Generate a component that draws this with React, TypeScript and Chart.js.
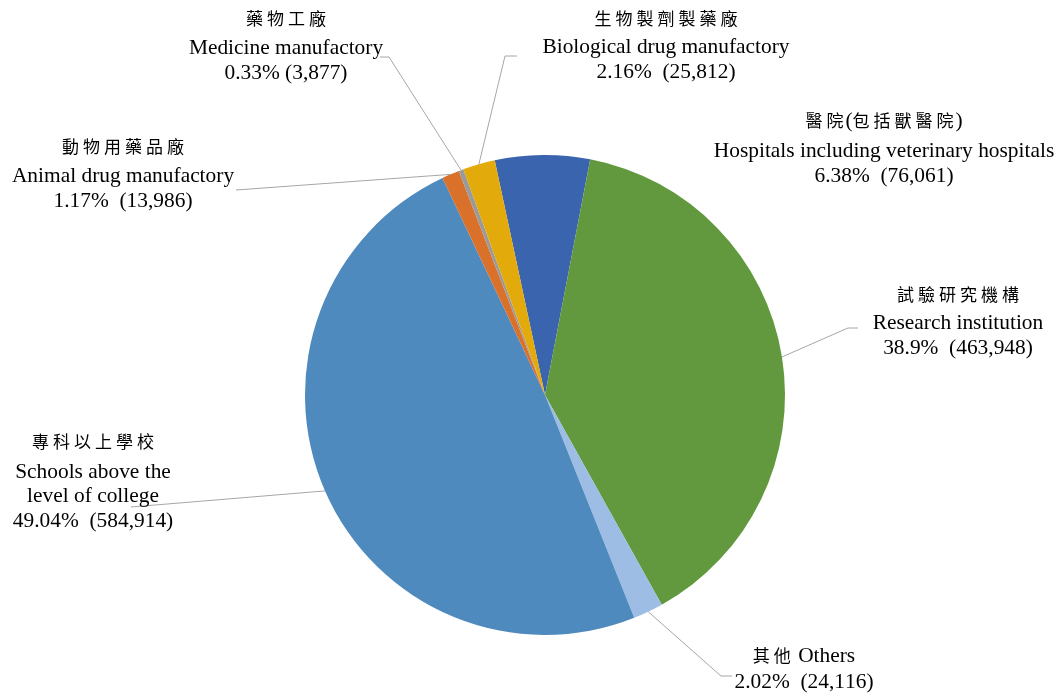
import React, { useEffect, useRef } from "react";
import { Chart, registerables } from "chart.js";

Chart.register(...registerables);

// ---- data ----
const categoriesZh = ["醫院(包括獸醫院)", "試驗研究機構", "其他", "專科以上學校", "動物用藥品廠", "藥物工廠", "生物製劑製藥廠"];
const categoriesEn = [
  "Hospitals including veterinary hospitals",
  "Research institution",
  "Others",
  "Schools above the level of college",
  "Animal drug manufactory",
  "Medicine manufactory",
  "Biological drug manufactory",
];
const values = [76061, 463948, 24116, 584914, 13986, 3877, 25812];
const percentLabels = ["6.38%", "38.9%", "2.02%", "49.04%", "1.17%", "0.33%", "2.16%"];
const valueLabels = ["(76,061)", "(463,948)", "(24,116)", "(584,914)", "(13,986)", "(3,877)", "(25,812)"];
const colors = ["#3A64AD", "#62993E", "#9DBDE4", "#4F8ABE", "#D9712B", "#9A9A9A", "#E3AA0B"];

// ---- label layout (text lines and positions) ----
type LabelLayout = {
  cx: number;
  cjkY: number | null;
  lines: string[]; // first line is the CJK line if cjkY != null
  baselines: number[];
  elbow: [number, number] | null;
  end: [number, number] | null;
};

const labelLayouts: LabelLayout[] = [
  {
    cx: 884, cjkY: 121,
    lines: [categoriesZh[0], categoriesEn[0], `${percentLabels[0]}  ${valueLabels[0]}`],
    baselines: [157, 182], elbow: null, end: null,
  },
  {
    cx: 958, cjkY: 295,
    lines: [categoriesZh[1], categoriesEn[1], `${percentLabels[1]}  ${valueLabels[1]}`],
    baselines: [329, 354], elbow: [848, 328], end: [858, 328],
  },
  {
    cx: 804, cjkY: null,
    lines: [`${categoriesZh[2]} ${categoriesEn[2]}`, `${percentLabels[2]}  ${valueLabels[2]}`],
    baselines: [662, 688], elbow: [721, 676], end: [732, 676],
  },
  {
    cx: 93, cjkY: 442,
    lines: [categoriesZh[3], "Schools above the", "level of college", `${percentLabels[3]}  ${valueLabels[3]}`],
    baselines: [478, 502, 527], elbow: [131, 507], end: [131, 507],
  },
  {
    cx: 123, cjkY: 147,
    lines: [categoriesZh[4], categoriesEn[4], `${percentLabels[4]}  ${valueLabels[4]}`],
    baselines: [182, 207], elbow: [236, 190], end: [236, 190],
  },
  {
    cx: 286, cjkY: 19,
    lines: [categoriesZh[5], categoriesEn[5], `${percentLabels[5]} ${valueLabels[5]}`],
    baselines: [54, 79], elbow: [389, 57], end: [380, 57],
  },
  {
    cx: 666, cjkY: 19,
    lines: [categoriesZh[6], categoriesEn[6], `${percentLabels[6]}  ${valueLabels[6]}`],
    baselines: [53, 78], elbow: [505, 56], end: [517, 56],
  },
];

const LATIN_FONT = '21.4px "Liberation Serif", "Times New Roman", serif';
const CJK_FONT = '17px "Noto Sans CJK TC", "Noto Sans CJK SC", sans-serif';
const CJK_SPACING = 4;

const isCJK = (ch: string) => /[\u3000-\u9fff\uff00-\uffef]/.test(ch);

function drawMixed(ctx: CanvasRenderingContext2D, text: string, cx: number, y: number, baseline: CanvasTextBaseline) {
  const chars = Array.from(text);
  const widths: number[] = [];
  chars.forEach((ch, i) => {
    const cjk = isCJK(ch);
    ctx.font = cjk ? CJK_FONT : LATIN_FONT;
    let w = ctx.measureText(ch).width;
    if (cjk && i < chars.length - 1 && isCJK(chars[i + 1])) w += CJK_SPACING;
    else if (cjk && i < chars.length - 1) w += CJK_SPACING / 2;
    widths.push(w);
  });
  const total = widths.reduce((a, b) => a + b, 0);
  let x = cx - total / 2;
  ctx.textBaseline = baseline;
  ctx.textAlign = "left";
  chars.forEach((ch, i) => {
    const cjk = isCJK(ch);
    ctx.font = cjk ? CJK_FONT : LATIN_FONT;
    ctx.fillText(ch, x, y);
    x += widths[i];
  });
}

const labelPlugin = {
  id: "outsideLabels",
  afterDraw(chart: any) {
    const ctx: CanvasRenderingContext2D = chart.ctx;
    const meta = chart.getDatasetMeta(0);
    ctx.save();
    // leader lines
    ctx.strokeStyle = "#A6A6A6";
    ctx.lineWidth = 1;
    meta.data.forEach((arc: any, i: number) => {
      const lay = labelLayouts[i];
      if (!lay.elbow || !lay.end) return;
      const p = arc.getProps(["x", "y", "startAngle", "endAngle", "outerRadius"], true);
      const mid = (p.startAngle + p.endAngle) / 2;
      const sx = p.x + Math.cos(mid) * p.outerRadius;
      const sy = p.y + Math.sin(mid) * p.outerRadius;
      ctx.beginPath();
      ctx.moveTo(sx, sy);
      ctx.lineTo(lay.elbow[0], lay.elbow[1]);
      ctx.lineTo(lay.end[0], lay.end[1]);
      ctx.stroke();
    });
    // texts
    ctx.fillStyle = "#000000";
    labelLayouts.forEach((lay) => {
      let bi = 0;
      lay.lines.forEach((line, li) => {
        if (li === 0 && lay.cjkY !== null) {
          drawMixed(ctx, line, lay.cx, lay.cjkY, "middle");
        } else {
          drawMixed(ctx, line, lay.cx, lay.baselines[bi], "alphabetic");
          bi++;
        }
      });
    });
    ctx.restore();
  },
};

export default function App() {
  const canvasRef = useRef<HTMLCanvasElement | null>(null);

  useEffect(() => {
    document.body.style.margin = "0";
    const canvas = canvasRef.current;
    if (!canvas) return;
    const chart = new Chart(canvas, {
      type: "pie",
      data: {
        labels: categoriesEn,
        datasets: [
          {
            data: values,
            backgroundColor: colors,
            borderWidth: 0,
          },
        ],
      },
      options: {
        responsive: false,
        animation: false,
        rotation: -12.1,
        layout: { padding: { left: 305, right: 277, top: 155, bottom: 62 } },
        plugins: {
          legend: { display: false },
          tooltip: { enabled: false },
        },
      },
      plugins: [labelPlugin],
    });
    return () => chart.destroy();
  }, []);

  return (
    <div style={{ position: "fixed", left: 0, top: 0, width: 1062, height: 697, background: "#ffffff" }}>
      <canvas ref={canvasRef} width={1062} height={697} style={{ width: 1062, height: 697, display: "block" }} />
    </div>
  );
}
